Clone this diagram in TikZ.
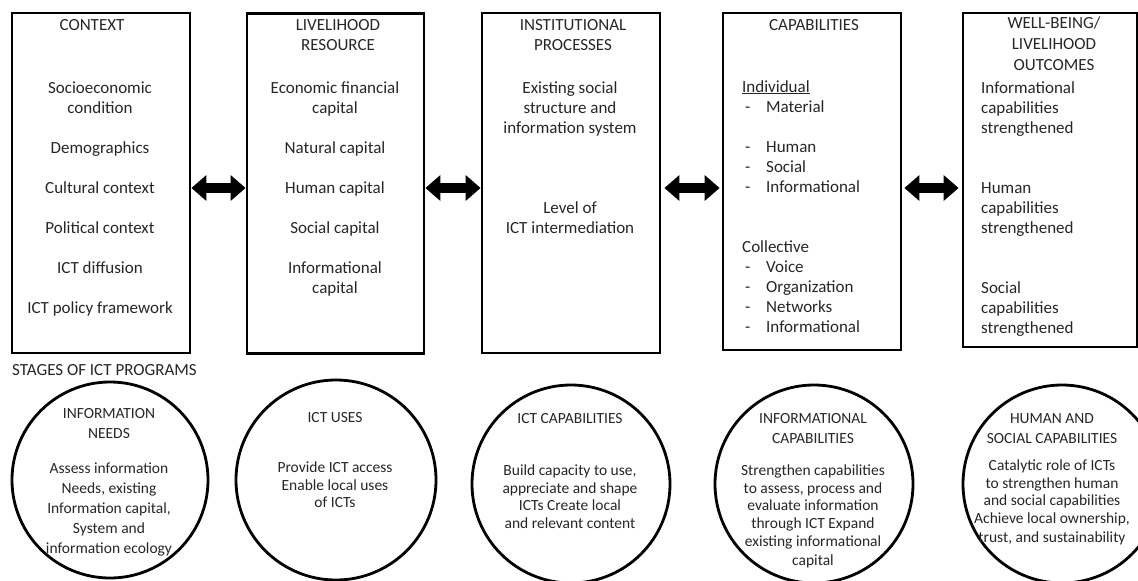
\documentclass[tikz,border=0pt]{standalone}
\usepackage{fontspec}
\setmainfont{Carlito}
\usepackage{tikz}
\usetikzlibrary{arrows.meta,shapes}

\begin{document}
\begin{tikzpicture}[x=1pt,y=-1pt,
  box/.style={draw,line width=2.8pt,minimum width=178pt,minimum height=340pt,inner sep=0pt},
  stage/.style={draw,circle,line width=2.8pt,minimum size=198pt,inner sep=0pt},
  txt/.style={anchor=base,inner sep=0pt,text=black!85,font=\fontsize{17}{20}\selectfont},
  ltxt/.style={txt,anchor=base west},
  ctxt/.style={txt,font=\fontsize{15.5}{18}\selectfont},
  link/.style={line width=10pt,{Triangle[width=25pt,length=15pt]}-{Triangle[width=25pt,length=15pt]}}]
\useasboundingbox (0,0) rectangle (1138,581);

\node[box] (ctx) at (101,183) {};
\node[box,minimum width=177pt] (res) at (335.5,183.5) {};
\node[box] (inst) at (571,183) {};
\node[box,minimum height=337pt] (cap) at (812,181.5) {};
\node[box,minimum width=174pt,minimum height=334pt] (out) at (1050,180) {};

\coordinate (mid) at (0,188);
\draw[link] (ctx.east|-mid)--(res.west|-mid);
\draw[link] (res.east|-mid)--(inst.west|-mid);
\draw[link] ([xshift=3pt]inst.east|-mid)--([xshift=-2pt]cap.west|-mid);
\draw[link] ([xshift=2pt]cap.east|-mid)--([xshift=-3pt]out.west|-mid);

% boxes
\node[txt] (ctxh) at (92,30) {CONTEXT};
\foreach \t/\y [count=\i] in {Socioeconomic/88,condition/108,Demographics/148,Cultural context/188,
  Political context/228,ICT diffusion/268,ICT policy framework/308}
  \node[txt] (ctx\i) at (100,\y+5) {\t};

\foreach \t/\y [count=\i] in {LIVELIHOOD/25,RESOURCE/45}
  \node[txt] (resh\i) at (338,\y+5) {\t};
\foreach \t/\y [count=\i] in {Economic financial/88,capital/108,Natural capital/148,Human capital/188,
  Social capital/228,Informational/268,capital/288}
  \node[txt] (res\i) at (335,\y+5) {\t};

\foreach \t/\y [count=\i] in {INSTITUTIONAL/25,PROCESSES/45}
  \node[txt] (insth\i) at (573,\y+5) {\t};
\foreach \t/\y [count=\i] in {Existing social/88,structure and/108,information system/128,
  Level of/208,ICT intermediation/228}
  \node[txt] (inst\i) at (570,\y+5) {\t};

\node[txt] (caph) at (814,30) {CAPABILITIES};
\node[ltxt] (indiv) at (742,92) {\underline{Individual}};
\node[ltxt] (coll) at (742,252) {Collective};
\foreach \t/\y [count=\i] in {Material/107,Human/147,Social/167,Informational/187,
  Voice/267,Organization/287,Networks/307,Informational/327}
  {\node[ltxt] (dash\i) at (745,\y+5) {-};
   \node[ltxt] (cap\i) at (766,\y+5) {\t};}

\foreach \t/\y [count=\i] in {{WELL-BEING/}/23,LIVELIHOOD/44,OUTCOMES/65}
  \node[txt] (outh\i) at (1054,\y+5) {\t};
\foreach \t/\y [count=\i] in {Informational/88,capabilities/108,strengthened/128,
  Human/188,capabilities/208,strengthened/228,Social/288,capabilities/308,strengthened/328}
  \node[ltxt] (out\i) at (981,\y+5) {\t};

% stages
\node[ltxt] (stages) at (12,375) {STAGES OF ICT PROGRAMS};

\node[stage,minimum size=196pt] (need) at (110,480) {};
\node[stage,minimum size=200pt] (use) at (336,480) {};
\node[stage] (ictcap) at (571,484) {};
\node[stage] (infcap) at (814,484) {};
\node[stage] (hscap) at (1062,484) {};

\foreach \t/\y [count=\i] in {INFORMATION/413,NEEDS/433,Assess information/468,{Needs, existing}/488,
  {Information capital,}/508,System and/528,information ecology/548}
  \node[ctxt] (need\i) at (109,\y+5) {\t};
\foreach \t/\y [count=\i] in {ICT USES/417,Provide ICT access/467,Enable local uses/485,of ICTs/502}
  \node[ctxt] (use\i) at (335,\y+5) {\t};
\foreach \t/\y [count=\i] in {ICT CAPABILITIES/418,{Build capacity to use,}/470,appreciate and shape/488,
  ICTs Create local/505,and relevant content/523}
  \node[ctxt] (ictcap\i) at (570,\y+5) {\t};
\foreach \t/\y [count=\i] in {INFORMATIONAL/418,CAPABILITIES/438,Strengthen capabilities/470,
  {to assess, process and}/488,evaluate information/505,through ICT Expand/523,
  existing informational/541,capital/560}
  \node[ctxt] (infcap\i) at (813,\y+5) {\t};
\foreach \t/\y [count=\i] in {HUMAN AND/418,SOCIAL CAPABILITIES/438,Catalytic role of ICTs/465,
  to strengthen human/483,and social capabilities/500,{Achieve local ownership,}/518,
  {trust, and sustainability}/537}
  \node[ctxt] (hscap\i) at (1052,\y+5) {\t};
\end{tikzpicture}
\end{document}
